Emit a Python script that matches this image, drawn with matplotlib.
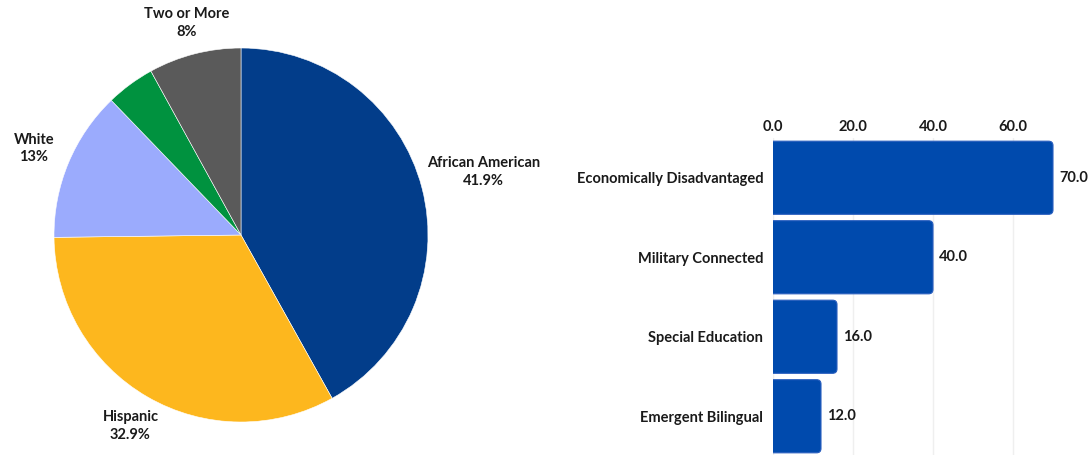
import numpy as np
import matplotlib
matplotlib.use("Agg")
import matplotlib.pyplot as plt
from matplotlib.patches import FancyBboxPatch

plt.rcParams['font.family'] = ['Lato', 'DejaVu Sans']

# --- data -------------------------------------------------------------
groups = ["African American", "Hispanic", "White", "", "Two or More"]
group_pct = [41.9, 32.9, 13.0, 4.2, 8.0]
group_pct_text = ["41.9%", "32.9%", "13%", "", "8%"]

programs = ["Economically Disadvantaged", "Military Connected",
            "Special Education", "Emergent Bilingual"]
program_pct = [70.0, 40.0, 16.0, 12.0]
x_ticks = [0, 20, 40, 60]

# --- styling ----------------------------------------------------------
pie_colors = ["#023d8a", "#fdb71e", "#9babfd", "#00923f", "#5a5a5a"]
label_dist = [1.34, 1.18, 1.20, 1.15, 1.17]
bar_color = "#004aad"
text_color = "#1a1a1a"

W, H = 1089, 455
fig = plt.figure(figsize=(W / 100, H / 100), dpi=100)

# --- pie --------------------------------------------------------------
cx, cy, r = 241, 235, 187
ax_pie = fig.add_axes([(cx - r) / W, (H - cy - r) / H, 2 * r / W, 2 * r / H])
wedges, _ = ax_pie.pie(group_pct, colors=pie_colors, startangle=90,
                       counterclock=False, radius=1.0,
                       wedgeprops=dict(linewidth=0.4, edgecolor="white"))
ax_pie.set_xlim(-1, 1)
ax_pie.set_ylim(-1, 1)
ax_pie.set_aspect("equal")
ax_pie.axis("off")

for w, name, pct, d in zip(wedges, groups, group_pct_text, label_dist):
    if not name:
        continue
    ang = np.deg2rad((w.theta1 + w.theta2) / 2)
    ax_pie.text(d * np.cos(ang), d * np.sin(ang), f"{name}\n{pct}",
                ha="center", va="center", fontsize=10.5, fontweight="bold",
                color=text_color, linespacing=1.35)

# --- horizontal bars --------------------------------------------------
left_px, right_px, top_px, step_px = 773, 1077, 138, 79.5
n = len(programs)
ax_bar = fig.add_axes([left_px / W, (H - top_px - n * step_px) / H,
                       (right_px - left_px) / W, n * step_px / H])
xmax = (right_px - left_px) / 4.0
ypos = np.arange(n)
bars = ax_bar.barh(ypos, program_pct, height=0.92, color="none")
ax_bar.set_xlim(0, xmax)
ax_bar.set_ylim(n - 0.5, -0.5)

rx = 1.1                      # corner radius in x units (~4 px)
ry_per_x = (1.0 / step_px) / (1.0 / 4.0)
for b in bars:
    x0, y0 = b.get_x(), b.get_y()
    w, h = b.get_width(), b.get_height()
    patch = FancyBboxPatch((x0 - 3, y0), w + 3, h,
                           boxstyle=f"round,pad=0,rounding_size={rx}",
                           mutation_aspect=ry_per_x,
                           facecolor=bar_color, edgecolor="#2a5fbf",
                           linewidth=0.8, zorder=3)
    ax_bar.add_patch(patch)
    b.remove()

for y, v in zip(ypos, program_pct):
    ax_bar.text(v + 1.5, y, f"{v:.1f}", ha="left", va="center",
                fontsize=10.5, fontweight="bold", color=text_color)

ax_bar.xaxis.tick_top()
ax_bar.set_xticks(x_ticks)
ax_bar.set_xticklabels([f"{t:.1f}" for t in x_ticks], fontsize=10.5,
                       fontweight="bold", color=text_color)
ax_bar.set_yticks(ypos)
ax_bar.set_yticklabels(programs, fontsize=10.5, fontweight="bold",
                       color=text_color)
ax_bar.tick_params(axis="both", length=0)
ax_bar.tick_params(axis="x", pad=3)
ax_bar.tick_params(axis="y", pad=7)
ax_bar.grid(axis="x", color="#efefef", linewidth=1.0, zorder=0)
ax_bar.set_axisbelow(True)
for s in ax_bar.spines.values():
    s.set_visible(False)

fig.savefig("out.png", dpi=100, facecolor="white")
